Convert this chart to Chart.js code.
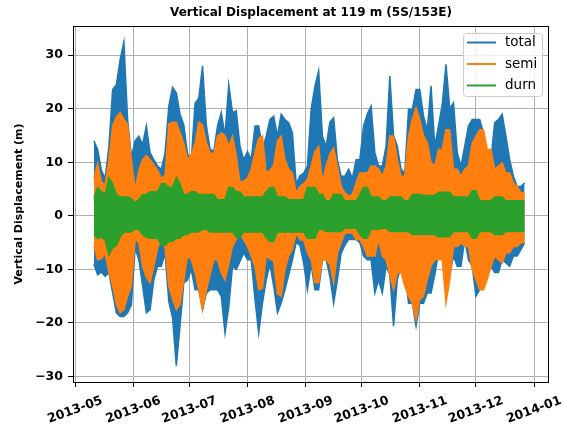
<!DOCTYPE html>
<html>
<head>
<meta charset="utf-8">
<script src="https://cdn.jsdelivr.net/npm/chart.js@4.4.1/dist/chart.umd.min.js"></script>
<style>
  html, body { margin: 0; padding: 0; background: #fff; }
  canvas { display: block; }
</style>
</head>
<body>
<canvas id="grafico" width="563" height="430"></canvas>
<script>
// desplazamiento vertical a 119 m, envolvente alta/baja cada 2 dias desde 2013-05-11
var DIA = 86400000;
var inicio = Date.UTC(2013, 4, 11);
var paso = 2;

var totalHi = [14.0, 12.4, 8.5, 7.0, 13.0, 23.6, 24.5, 29.2, 32.5, 18.0, 11.0, 14.0, 14.9, 13.3, 16.8, 11.8, 10.5, 9.3,
  8.7, 11.8, 20.5, 24.0, 23.0, 19.0, 17.0, 11.5, 10.5, 21.0, 22.0, 28.0, 17.0, 12.5, 12.0, 16.8, 19.3, 15.0, 24.5, 19.3,
  19.6, 13.0, 10.5, 12.0, 10.5, 16.8, 16.8, 12.4, 14.9, 18.0, 18.6, 14.9, 19.0, 18.0, 17.4, 15.5, 6.0, 7.5, 8.0,
  9.3, 19.9, 24.2, 27.1, 14.9, 13.0, 17.5, 18.3, 10.5, 7.4, 7.4, 8.7, 7.0, 10.5, 10.5, 16.8, 19.0, 20.5, 11.8, 9.3,
  9.3, 13.0, 26.1, 15.0, 13.0, 8.7, 8.0, 19.9, 19.9, 23.6, 23.6, 18.6, 16.1, 24.3, 13.0, 16.8, 20.8, 28.3, 20.0,
  21.1, 11.8, 9.3, 13.0, 16.8, 18.0, 18.0, 18.0, 15.5, 11.8, 10.5, 17.4, 18.0, 19.0, 14.9, 10.5, 7.4, 5.5, 5.5, 6.2];
var totalLo = [-9.0, -11.0, -10.5, -11.3, -10.6, -14.4, -18.1, -18.8, -18.8, -18.1, -16.6, -6.0, -8.2, -13.1, -18.1, -17.5, -11.9, -9.4,
  -9.4, -7.0, -16.0, -19.0, -28.0, -20.5, -12.5, -12.0, -10.0, -13.8, -13.8, -17.5, -14.5, -13.8, -13.8, -13.8, -15.0, -21.9, -17.0, -9.4,
  -10.0, -8.5, -6.9, -8.2, -8.2, -15.6, -21.9, -16.3, -12.0, -9.0, -13.1, -18.1, -16.3, -13.8, -11.0, -8.2, -5.0, -5.5, -8.8,
  -13.8, -9.0, -13.8, -13.8, -8.2, -8.2, -11.3, -16.3, -12.0, -7.0, -5.5, -4.4, -4.4, -4.4, -5.0, -7.5, -8.2, -8.2, -14.4, -12.0,
  -14.4, -9.4, -11.0, -20.6, -11.9, -9.4, -10.0, -16.3, -16.3, -20.6, -16.3, -16.3, -14.4, -14.4, -11.0, -7.0, -7.0, -14.0, -11.0,
  -7.5, -9.4, -9.4, -4.4, -8.2, -9.4, -15.0, -13.8, -11.9, -9.4, -9.4, -10.6, -10.6, -8.2, -8.8, -9.4, -7.5, -7.5, -6.3, -5.0];

var semiHi = [7.0, 9.8, 6.3, 5.8, 10.5, 16.8, 18.5, 19.3, 18.0, 17.0, 10.5, 5.0, 8.5, 10.5, 11.3, 10.5, 9.5, 8.5,
  7.0, 7.5, 17.2, 17.5, 17.5, 15.5, 13.5, 10.5, 11.5, 13.5, 17.5, 17.0, 13.7, 11.8, 11.5, 14.9, 15.5, 15.0, 13.0, 14.9,
  11.2, 6.2, 6.5, 7.0, 8.7, 11.8, 14.5, 14.9, 8.0, 8.5, 9.5, 14.0, 14.9, 10.5, 8.7, 8.0, 4.3, 5.5, 6.0,
  6.8, 9.3, 12.0, 13.0, 6.2, 9.3, 11.5, 12.7, 9.3, 5.5, 4.3, 3.7, 4.0, 6.2, 8.0, 8.0, 8.0, 9.3, 9.3, 8.7,
  7.4, 9.3, 14.9, 14.9, 10.5, 7.4, 7.4, 14.9, 18.0, 20.2, 18.0, 15.0, 13.7, 10.0, 9.3, 12.4, 12.4, 16.1, 16.1,
  8.7, 8.7, 7.4, 8.7, 9.3, 13.5, 14.9, 16.1, 16.1, 12.4, 12.4, 8.7, 9.3, 9.9, 8.0, 8.0, 6.2, 5.5, 4.3, 4.3];
var semiLo = [-5.7, -8.2, -8.0, -7.0, -10.6, -13.0, -16.5, -18.1, -17.5, -15.0, -13.1, -4.4, -5.0, -9.4, -11.5, -12.5, -9.4, -6.0,
  -4.4, -6.0, -13.1, -15.5, -17.5, -16.5, -12.0, -7.5, -8.2, -10.5, -13.8, -17.5, -14.0, -11.0, -8.2, -8.2, -10.6, -12.0, -9.0, -5.7,
  -4.4, -3.2, -4.5, -5.7, -7.5, -9.4, -13.8, -13.5, -7.5, -8.0, -8.5, -14.5, -15.0, -10.0, -7.5, -6.3, -3.2, -4.5, -4.5,
  -6.9, -8.2, -12.5, -12.5, -8.2, -8.2, -9.0, -12.5, -7.0, -5.0, -3.2, -3.2, -3.2, -4.4, -4.4, -5.7, -7.5, -7.5, -7.5, -4.4,
  -7.5, -8.2, -11.0, -13.8, -10.6, -10.6, -13.1, -15.0, -16.3, -19.4, -15.6, -15.0, -11.9, -9.4, -8.2, -8.2, -8.2, -16.3, -11.9,
  -5.7, -5.7, -5.0, -5.7, -5.7, -10.0, -11.9, -13.8, -13.8, -11.9, -9.4, -7.5, -8.2, -8.8, -6.9, -6.9, -5.7, -5.7, -5.0, -5.0];

var durnHi = [3.4, 5.3, 4.5, 4.0, 7.2, 6.0, 4.0, 3.5, 3.5, 3.5, 3.2, 2.5, 3.0, 4.0, 4.0, 4.5, 4.5, 4.5,
  6.0, 6.0, 5.3, 5.3, 7.2, 6.0, 4.0, 4.0, 4.5, 4.5, 4.0, 4.0, 4.0, 4.0, 4.0, 3.0, 3.0, 3.0, 5.3, 5.3,
  4.5, 4.5, 3.5, 3.5, 3.5, 3.5, 3.5, 3.5, 4.5, 5.3, 5.3, 3.5, 3.5, 3.5, 3.0, 3.0, 3.0, 3.0, 3.0,
  5.3, 5.3, 5.3, 4.0, 4.0, 2.8, 2.8, 4.0, 4.0, 4.0, 2.8, 2.8, 2.8, 2.8, 4.0, 5.3, 5.3, 3.5, 3.5, 3.5,
  2.8, 2.8, 3.5, 3.5, 3.5, 3.5, 2.8, 2.8, 4.0, 4.0, 4.0, 3.8, 3.8, 3.8, 3.8, 4.4, 4.4, 4.4, 4.4,
  3.5, 3.5, 3.5, 3.5, 3.5, 4.7, 4.7, 2.8, 2.8, 2.8, 2.8, 3.5, 3.5, 3.5, 2.8, 2.8, 2.8, 2.8, 2.8, 2.8];
var durnLo = [-3.5, -4.2, -4.0, -4.5, -7.3, -6.0, -5.5, -4.0, -3.0, -3.0, -3.0, -2.5, -2.5, -3.5, -4.0, -4.2, -4.2, -4.2,
  -5.5, -5.5, -4.8, -4.8, -4.2, -4.2, -3.5, -3.5, -3.0, -3.0, -3.0, -2.5, -2.5, -3.0, -3.0, -3.0, -3.0, -3.0, -3.0, -3.0,
  -4.0, -4.0, -3.0, -3.0, -3.0, -3.0, -3.0, -3.0, -4.0, -4.8, -4.8, -3.0, -3.0, -3.0, -3.0, -3.0, -3.0, -3.0, -3.0,
  -4.2, -4.2, -4.2, -2.5, -2.5, -2.9, -2.9, -2.9, -2.9, -2.9, -2.3, -2.3, -2.3, -2.3, -3.5, -4.2, -4.2, -2.5, -2.5, -2.5,
  -2.3, -2.3, -2.9, -2.9, -2.9, -2.9, -2.9, -2.9, -3.5, -3.5, -3.5, -3.5, -3.5, -3.5, -3.5, -3.9, -3.9, -3.9, -3.9,
  -2.9, -2.9, -2.9, -2.9, -2.9, -4.2, -4.2, -2.9, -2.9, -2.9, -2.9, -3.5, -3.5, -3.5, -2.9, -2.9, -2.9, -2.9, -2.9, -2.9];

// ejes
var meses = ["2013-05", "2013-06", "2013-07", "2013-08", "2013-09", "2013-10", "2013-11", "2013-12", "2014-01"];
var yTicks = [-30, -20, -10, 0, 10, 20, 30];
var xMin = Date.UTC(2013, 3, 29, 20);
var xMax = Date.UTC(2014, 0, 9);
var yMin = -31.03, yMax = 35.46;

var titulo = "Vertical Displacement at 119 m (5S/153E)";
var tituloY = "Vertical Displacement (m)";
var nombres = ["total", "semi", "durn"];
var colores = ["#1f77b4", "#ff7f0e", "#2ca02c"];

var FUENTE = '"DejaVu Sans", sans-serif';

function mesAFecha(m) {
  var p = m.split("-");
  return Date.UTC(+p[0], +p[1] - 1, 1);
}

function serie(valores) {
  return valores.map(function (v, i) {
    return { x: inicio + i * paso * DIA, y: v };
  });
}

// cada serie son dos lineas (alta y baja) con relleno entre ellas
function banda(nombre, hi, lo, color, orden) {
  return [
    { label: nombre, data: serie(hi), borderColor: color, backgroundColor: color, fill: "+1", order: orden },
    { label: nombre, data: serie(lo), borderColor: color, backgroundColor: color, fill: false, order: orden }
  ];
}

var extras = {
  id: "extras",
  afterDraw: function (chart) {
    var ctx = chart.ctx, a = chart.chartArea, xs = chart.scales.x;
    ctx.save();
    // marco completo
    ctx.strokeStyle = "#000";
    ctx.lineWidth = 1;
    ctx.strokeRect(a.left + 0.5, a.top + 0.5, a.right - a.left - 1, a.bottom - a.top);

    ctx.fillStyle = "#000";
    ctx.font = "bold 12px " + FUENTE;
    ctx.textAlign = "center";
    ctx.textBaseline = "middle";
    ctx.fillText(titulo, (a.left + a.right) / 2, 13);

    ctx.font = "bold 11px " + FUENTE;
    ctx.save();
    ctx.translate(19, (a.top + a.bottom) / 2);
    ctx.rotate(-Math.PI / 2);
    ctx.fillText(tituloY, 0, 0);
    ctx.restore();

    // etiquetas de fecha giradas
    ctx.font = "bold 12.5px " + FUENTE;
    meses.forEach(function (m) {
      var x = xs.getPixelForValue(mesAFecha(m));
      ctx.save();
      ctx.translate(x, 410);
      ctx.rotate(-20 * Math.PI / 180);
      ctx.fillText(m, 0, 0);
      ctx.restore();
    });

    // leyenda
    var lx = 463.5, ly = 33.5, lw = 79, lh = 63;
    ctx.beginPath();
    ctx.roundRect(lx, ly, lw, lh, 3);
    ctx.fillStyle = "rgba(255,255,255,0.8)";
    ctx.fill();
    ctx.strokeStyle = "#cccccc";
    ctx.stroke();
    ctx.font = "13.5px " + FUENTE;
    ctx.textAlign = "left";
    nombres.forEach(function (n, i) {
      var yy = 42.5 + i * 21.5;
      ctx.strokeStyle = colores[i];
      ctx.lineWidth = 2;
      ctx.beginPath();
      ctx.moveTo(467, yy);
      ctx.lineTo(496, yy);
      ctx.stroke();
      ctx.fillStyle = "#000";
      ctx.fillText(n, 505, yy);
    });
    ctx.restore();
  }
};

var myChart = new Chart(document.getElementById("grafico").getContext("2d"), {
  type: "line",
  data: {
    datasets: [].concat(
      banda(nombres[0], totalHi, totalLo, colores[0], 3),
      banda(nombres[1], semiHi, semiLo, colores[1], 2),
      banda(nombres[2], durnHi, durnLo, colores[2], 1)
    )
  },
  options: {
    responsive: false,
    devicePixelRatio: 1,
    animation: false,
    events: [],
    elements: {
      point: { radius: 0 },
      line: { borderWidth: 1.5, tension: 0 }
    },
    layout: { padding: { top: 26, right: 14, left: 0, bottom: 0 } },
    plugins: {
      legend: { display: false },
      title: { display: false },
      tooltip: { enabled: false },
      filler: { drawTime: "beforeDatasetDraw" }
    },
    scales: {
      x: {
        type: "linear",
        min: xMin,
        max: xMax,
        afterBuildTicks: function (s) {
          s.ticks = meses.map(function (m) { return { value: mesAFecha(m) }; });
        },
        afterFit: function (s) { s.height = 48; },
        ticks: { display: false },
        grid: { color: "#b0b0b0", lineWidth: 1, tickLength: 5, tickColor: "#000" },
        border: { display: false }
      },
      y: {
        min: yMin,
        max: yMax,
        afterBuildTicks: function (s) {
          s.ticks = yTicks.map(function (v) { return { value: v }; });
        },
        afterFit: function (s) { s.width = 73; },
        ticks: {
          color: "#000",
          padding: 5,
          font: { family: FUENTE, size: 12.5, weight: "bold" },
          callback: function (v) { return v < 0 ? "\u2212" + Math.abs(v) : String(v); }
        },
        grid: { color: "#b0b0b0", lineWidth: 1, tickLength: 5, tickColor: "#000" },
        border: { display: false }
      }
    }
  },
  plugins: [extras]
});
</script>
</body>
</html>
